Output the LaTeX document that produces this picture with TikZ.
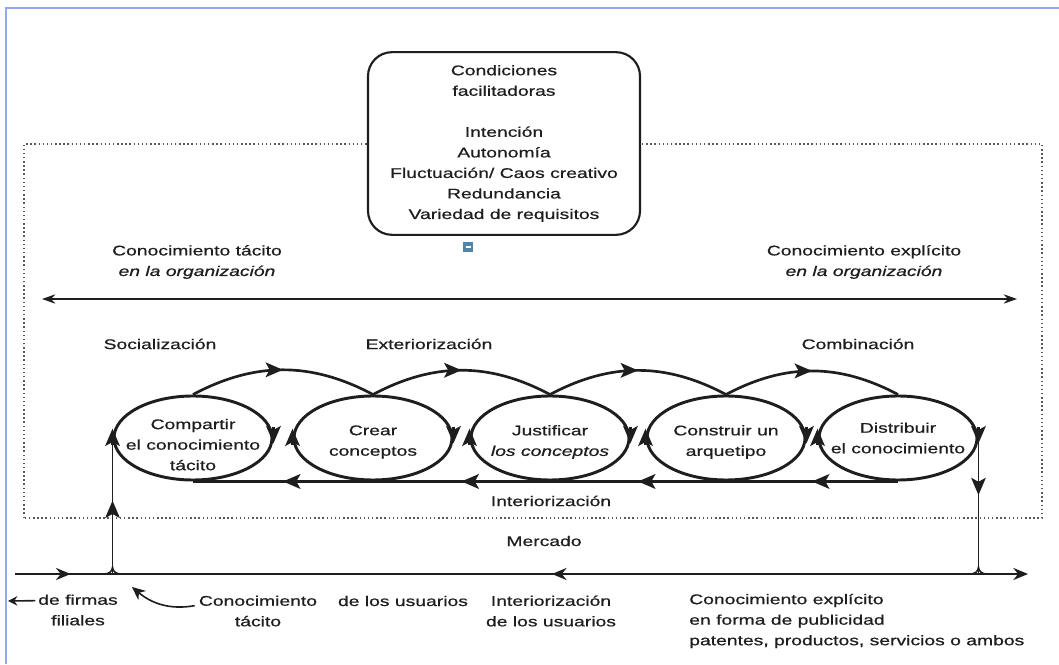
\documentclass[tikz,border=0pt]{standalone}
\usepackage{fontspec}
\setmainfont{Liberation Sans}[FakeStretch=1.38,FakeBold=0.6]
\usepackage{tikz}
\usetikzlibrary{arrows.meta,shapes.geometric,decorations.markings,positioning}

\definecolor{kmInk}{HTML}{1E1E1E}
\definecolor{kmDots}{HTML}{5A5A5A}
\definecolor{kmFrame}{HTML}{93AAE6}
\definecolor{kmIcon}{HTML}{4F86A8}

\tikzset{
  every node/.style={font=\fontsize{10.5}{15.4}\selectfont, text=kmInk, inner sep=0pt},
  arrowat/.style={postaction={decorate},
    decoration={markings, mark=at position #1 with {\arrow{Stealth[length=13pt,width=11pt,inset=3pt]}}}},
  stage/.style={ellipse, draw=kmInk, line width=2.2pt, minimum width=118.5pt, minimum height=63pt},
  stagetext/.style={align=center},
  condbox/.style={draw=kmInk, fill=white, line width=1.6pt, rounded corners=18pt,
    minimum width=204pt, minimum height=137pt, align=center},
  orgline/.style={draw=kmDots, dotted, line width=1.1pt},
  axis/.style={draw=kmInk, line width=1.1pt, {Stealth[length=10pt,width=7pt]}-{Stealth[length=10pt,width=7pt]}},
  wave/.style={draw=kmInk, line width=2pt},
  sidetip/.style={draw=kmInk, line width=1.6pt, -{Stealth[length=13pt,width=11pt,inset=3pt]}},
  feed/.style={draw=kmInk, line width=1.2pt},
  market/.style={draw=kmInk, line width=2pt}
}

\begin{document}
\begin{tikzpicture}[x=0.75pt,y=0.75pt]
  % page and frame
  \fill[white] (0,0) rectangle (1059,664);
  \useasboundingbox (0,0) rectangle (1059,664);
  \draw[kmFrame, line width=2.2pt] (6,0) -- (6,656) -- (1059,656);

  % organisation
  \draw[orgline] (24,146) rectangle (1042,520);

  % enabling conditions
  \node[condbox] (cond) at (504,520.5) {Condiciones\\facilitadoras\\[15.4pt]Intención\\Autonomía\\Fluctuación/ Caos creativo\\Redundancia\\Variedad de requisitos};
  \fill[kmIcon] (463,412) rectangle (473,422);
  \draw[white, line width=1pt] (465.5,417) -- (470.5,417);

  % tacit / explicit axis
  \node[align=center] (tacit) at (197,402) {Conocimiento tácito\\\textit{en la organización}};
  \node[align=center] (explicit) at (864,402) {Conocimiento explícito\\\textit{en la organización}};
  \coordinate (axl) at (42,365);
  \coordinate (axr) at (1017,365);
  \draw[axis] (axl) -- (axr);

  % phases
  \node (soc) at (160,320) {Socialización};
  \node (ext) at (429,320) {Exteriorización};
  \node (comb) at (858,320) {Combinación};

  % spiral
  \node[stage] (e1) at (193,226) {};
  \node[stage] (e2) at (373,226) {};
  \node[stage] (e3) at (550,226) {};
  \node[stage] (e4) at (726,226) {};
  \node[stage] (e5) at (898,226) {};
  \node[stagetext] (t1) at ([yshift=-5pt]e1.center) {Compartir\\el conocimiento\\tácito};
  \node[stagetext] (t2) at ([yshift=-3pt]e2.center) {Crear\\conceptos};
  \node[stagetext] (t3) at ([yshift=-3pt]e3.center) {Justificar\\\textit{los conceptos}};
  \node[stagetext] (t4) at ([yshift=-3pt]e4.center) {Construir un\\arquetipo};
  \node[stagetext] (t5) at ([yshift=0pt]e5.center) {Distribuir\\el conocimiento};

  \draw[wave, arrowat=0.5] (e1.north) to[out=28,in=152] (e2.north);
  \draw[wave, arrowat=0.5] (e2.north) to[out=28,in=152] (e3.north);
  \draw[wave, arrowat=0.5] (e3.north) to[out=28,in=152] (e4.north);
  \draw[wave, arrowat=0.5] (e4.north) to[out=28,in=152] (e5.north);

  \draw[wave, arrowat=0.5] (e5.south) -- (e4.south);
  \draw[wave, arrowat=0.5] (e4.south) -- (e3.south);
  \draw[wave, arrowat=0.5] (e3.south) -- (e2.south);
  \draw[wave, arrowat=0.5] (e2.south) -- (e1.south);

  \draw[sidetip] ([yshift=8pt]e1.east) -- ([yshift=-4pt]e1.east);
  \draw[sidetip] ([yshift=8pt]e2.east) -- ([yshift=-4pt]e2.east);
  \draw[sidetip] ([yshift=8pt]e3.east) -- ([yshift=-4pt]e3.east);
  \draw[sidetip] ([yshift=8pt]e4.east) -- ([yshift=-4pt]e4.east);
  \draw[sidetip] ([yshift=8pt]e5.east) -- ([yshift=-4pt]e5.east);
  \draw[sidetip] ([yshift=-5pt]e2.west) -- ([yshift=7pt]e2.west);
  \draw[sidetip] ([yshift=-5pt]e3.west) -- ([yshift=7pt]e3.west);
  \draw[sidetip] ([yshift=-5pt]e4.west) -- ([yshift=7pt]e4.west);
  \draw[sidetip] ([yshift=-5pt]e5.west) -- ([yshift=7pt]e5.west);

  \node (inter) at (551,163) {Interiorización};

  % market
  \node (market) at (544,123) {Mercado};
  \coordinate (m0) at (15,90);
  \coordinate (m1) at (1028,90);
  \coordinate (jl) at (e1.west |- m0);
  \coordinate (jr) at (e5.east |- m0);
  \draw[market, -{Stealth[length=11pt,width=9pt]}, postaction={decorate},
    decoration={markings,
      mark=at position 0.055 with {\arrow{Stealth[length=11pt,width=9pt]}},
      mark=at position 0.53 with {\arrowreversed{Stealth[length=11pt,width=9pt]}}}] (m0) -- (m1);
  \draw[feed, arrowat=0.55] (jl) -- ([yshift=-2pt]e1.west);
  \draw[sidetip] ([yshift=-5pt]e1.west) -- ([yshift=7pt]e1.west);
  \draw[feed, arrowat=0.42] (e5.east) -- (jr);
  \draw[feed] ([xshift=-6pt]jl) to[out=0,in=-90] ([yshift=5pt]jl) to[out=-90,in=180] ([xshift=6pt]jl);
  \draw[feed] ([xshift=-6pt]jr) to[out=0,in=-90] ([yshift=5pt]jr) to[out=-90,in=180] ([xshift=6pt]jr);

  % market labels
  \node[align=center] (firm) at (78,54) {de firmas\\filiales};
  \coordinate (firmtip) at (8,63);
  \draw[feed, -{Stealth[length=7pt,width=7pt]}] ([xshift=-2pt,yshift=7pt]firm.west) -- (firmtip);
  \node[align=center] (con) at (258,53) {Conocimiento\\tácito};
  \coordinate (tacittip) at (132,77);
  \draw[feed, -{Stealth[length=10pt,width=9pt]}] ([xshift=-3pt,yshift=4pt]con.west) to[out=190,in=-40] (tacittip);
  \node (users) at (403,63) {de los usuarios};
  \node[align=center] (interusers) at (551,53) {Interiorización\\de los usuarios};
  \node[align=left, anchor=west] (pub) at (689,43) {Conocimiento explícito\\en forma de publicidad\\patentes, productos, servicios o ambos};
\end{tikzpicture}
\end{document}
